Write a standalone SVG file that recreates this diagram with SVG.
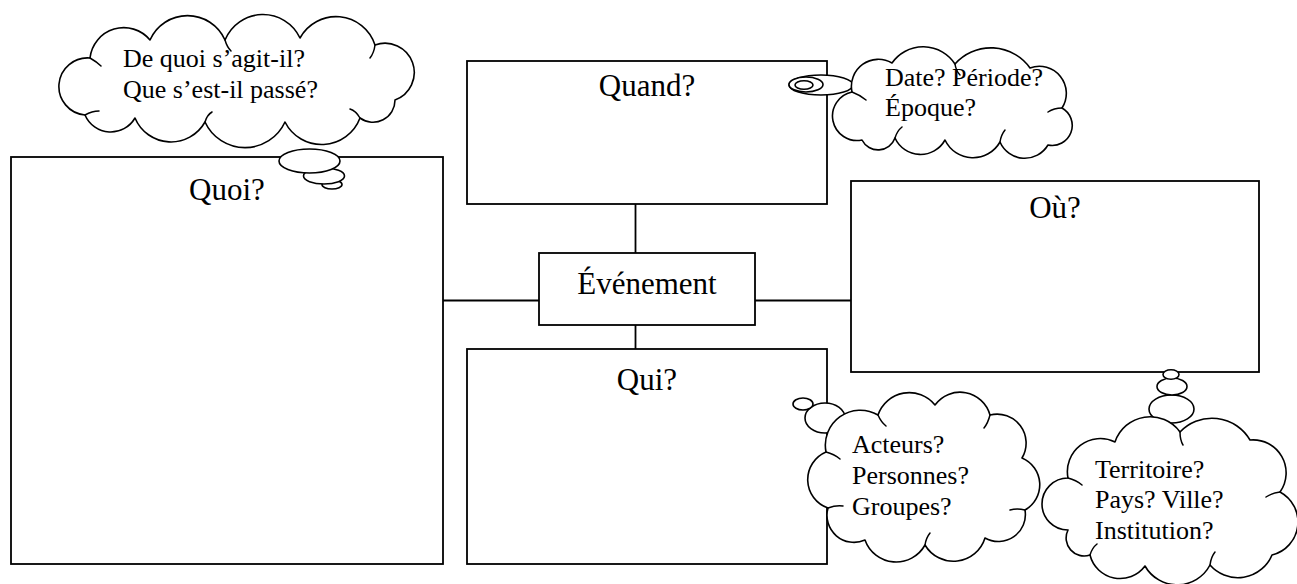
<svg xmlns="http://www.w3.org/2000/svg" width="1297" height="584" viewBox="0 0 1297 584">
<style>
.box{fill:#fff;stroke:#000;stroke-width:1.8}
.conn{stroke:#000;stroke-width:1.8;fill:none}
.cloud{fill:#fff;stroke:#000;stroke-width:1.6;stroke-linejoin:round}
.inner{fill:none;stroke:#000;stroke-width:1.5;stroke-linecap:round}
.title{font-family:"Liberation Serif","Times New Roman",serif;font-size:31px;fill:#000;text-anchor:middle}
.note{font-family:"Liberation Serif","Times New Roman",serif;font-size:26px;fill:#000}
</style>
<rect width="1297" height="584" fill="#fff"/>
<g id="connectors">
<line class="conn" x1="635.5" y1="204" x2="635.5" y2="253"/>
<line class="conn" x1="635.5" y1="325" x2="635.5" y2="349"/>
<line class="conn" x1="443" y1="300.5" x2="539" y2="300.5"/>
<line class="conn" x1="755" y1="300.5" x2="851" y2="300.5"/>
</g>
<g id="node-quoi">
<rect class="box" x="11" y="157" width="432" height="407"/>
<text class="title" x="227" y="200">Quoi?</text>
</g>
<g id="node-quand">
<rect class="box" x="467" y="61" width="360" height="143"/>
<text class="title" x="647" y="96">Quand?</text>
</g>
<g id="node-ou">
<rect class="box" x="851" y="181" width="408" height="191"/>
<text class="title" x="1055" y="218">Où?</text>
</g>
<g id="node-qui">
<rect class="box" x="467" y="349" width="360" height="215"/>
<text class="title" x="647" y="390">Qui?</text>
</g>
<g id="node-evenement">
<rect class="box" x="539" y="253" width="216" height="72"/>
<text class="title" x="647" y="294">Événement</text>
</g>
<g id="cloud-quoi">
<ellipse class="cloud" cx="332" cy="184.5" rx="10" ry="4.5"/>
<ellipse class="cloud" cx="324" cy="176" rx="20.5" ry="8"/>
<ellipse class="cloud" cx="309.5" cy="161" rx="30.5" ry="12"/>
<path class="cloud" d="M85,115 A28,28 0 0 1 90,58 A34,34 0 0 1 150,40 A41,41 0 0 1 225,40 A41,41 0 0 1 300,38 A41,41 0 0 1 375,45 A29,29 0 0 1 395,100 A22,22 0 0 1 360,118 A41,41 0 0 1 285,122 A44,44 0 0 1 205,122 A39,39 0 0 1 135,118 A28,28 0 0 1 85,115 Z"/>
<path class="inner" d="M90,58 Q97,62 101,66 M225,40 Q227,47 231,51 M375,45 Q374,53 370,58 M360,118 Q356,111 350,109 M205,122 Q207,115 212,112 M85,115 Q92,111 99,111"/>
<text class="note" x="123" y="67">De quoi s’agit-il?</text>
<text class="note" x="123" y="98">Que s’est-il passé?</text>
</g>
<g id="cloud-quand">
<ellipse class="cloud" cx="821" cy="85" rx="32" ry="10"/>
<ellipse class="cloud" cx="806" cy="84.5" rx="17" ry="7.5"/>
<ellipse class="cloud" cx="804" cy="85" rx="9" ry="4.3"/>
<path class="cloud" d="M862,140 A24,24 0 0 1 852,92 A27,27 0 0 1 892,63 A38,38 0 0 1 955,64 A48,48 0 0 1 1030,68 A27,27 0 0 1 1062,108 A20,20 0 0 1 1048,145 A27,27 0 0 1 1000,142 A31,31 0 0 1 945,140 A28,28 0 0 1 895,138 A18,18 0 0 1 862,140 Z"/>
<path class="inner" d="M852,92 Q860,95 866,100 M955,64 Q956,71 960,75 M1062,108 Q1054,108 1048,112 M1000,142 Q1001,135 1005,130 M895,138 Q897,131 902,127"/>
<text class="note" x="885" y="86">Date? Période?</text>
<text class="note" x="885" y="116">Époque?</text>
</g>
<g id="cloud-qui">
<ellipse class="cloud" cx="825" cy="418" rx="20" ry="15"/>
<ellipse class="cloud" cx="803" cy="404" rx="10" ry="6"/>
<path class="cloud" d="M828,508 A30,30 0 0 1 826,452 A35,35 0 0 1 878,415 A33,33 0 0 1 935,405 A31,31 0 0 1 990,415 A29,29 0 0 1 1022,458 A29,29 0 0 1 1025,510 A27,27 0 0 1 985,538 A33,33 0 0 1 925,545 A33,33 0 0 1 865,540 A27,27 0 0 1 828,508 Z"/>
<path class="inner" d="M826,452 Q834,454 840,459 M878,415 Q881,422 886,426 M990,415 Q988,423 984,428 M1025,510 Q1017,508 1010,510 M925,545 Q926,538 930,533 M828,508 Q836,505 843,506"/>
<text class="note" x="852" y="453">Acteurs?</text>
<text class="note" x="852" y="484">Personnes?</text>
<text class="note" x="852" y="515">Groupes?</text>
</g>
<g id="cloud-ou">
<ellipse class="cloud" cx="1171.5" cy="409" rx="22.5" ry="14"/>
<ellipse class="cloud" cx="1172" cy="386.5" rx="15" ry="8.5"/>
<ellipse class="cloud" cx="1171" cy="374.5" rx="8" ry="4.7"/>
<path class="cloud" d="M1068,530 A26,26 0 0 1 1068,478 A33,33 0 0 1 1115,442 A37,37 0 0 1 1180,432 A44,44 0 0 1 1250,440 A33,33 0 0 1 1280,492 A34,34 0 0 1 1272,555 A37,37 0 0 1 1210,565 A37,37 0 0 1 1145,566 A31,31 0 0 1 1090,555 A18,18 0 0 1 1068,530 Z"/>
<path class="inner" d="M1068,478 Q1076,480 1082,485 M1180,432 Q1180,440 1183,445 M1280,492 Q1272,493 1266,497 M1210,565 Q1211,557 1215,552 M1090,555 Q1092,548 1097,544"/>
<text class="note" x="1095" y="478">Territoire?</text>
<text class="note" x="1095" y="508">Pays? Ville?</text>
<text class="note" x="1095" y="539">Institution?</text>
</g>
</svg>
